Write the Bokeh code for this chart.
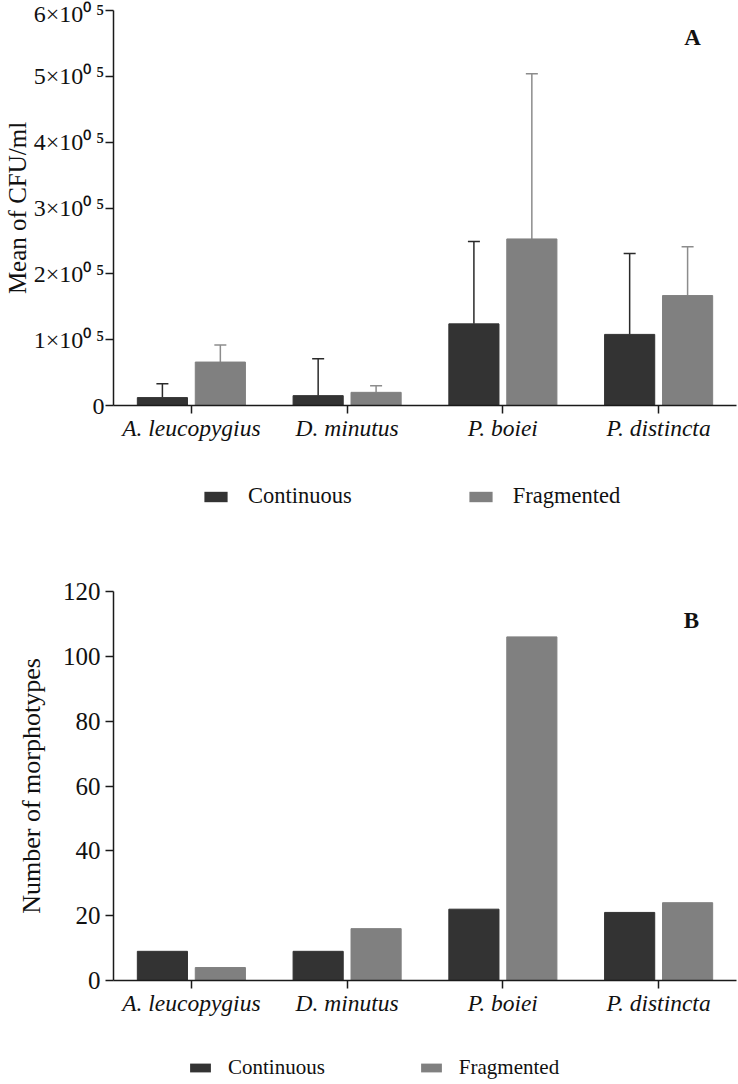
from bokeh.plotting import figure
from bokeh.models import (ColumnDataSource, FactorRange, Range1d, FixedTicker,
                          Whisker, TeeHead, Legend, LegendItem, Label)
from bokeh.transform import dodge
from bokeh.layouts import column
from bokeh.embed import file_html
from bokeh.resources import INLINE

# ---------------- data ----------------
species = ["A. leucopygius", "D. minutus", "P. boiei", "P. distincta"]
series_names = ["Continuous", "Fragmented"]

cfu_continuous = [12000, 15000, 124000, 108000]
cfu_continuous_sd = [21000, 56000, 125000, 123000]
cfu_fragmented = [66000, 20000, 253000, 167000]
cfu_fragmented_sd = [26000, 10000, 251000, 74000]

morph_continuous = [9, 9, 22, 21]
morph_fragmented = [4, 16, 106, 24]

cfu_ticks = [0, 100000, 200000, 300000, 400000, 500000, 600000]
cfu_tick_labels = ["0", "1×10⁰\u2009⁵", "2×10⁰\u2009⁵", "3×10⁰\u2009⁵",
                   "4×10⁰\u2009⁵", "5×10⁰\u2009⁵", "6×10⁰\u2009⁵"]
morph_ticks = [0, 20, 40, 60, 80, 100, 120]

# ---------------- style ----------------
FONT = "Liberation Serif"
C_CONT = "#333333"
C_FRAG = "#808080"
E_CONT = "#2a2a2a"
E_FRAG = "#8c8c8c"
OFF = 0.186
BW = 0.322
AXC = "#1a1a1a"
W = 738


def style_axes(p, tick_size, tick_standoff, ylabel, ylabel_size, standoff):
    p.xgrid.visible = False
    p.ygrid.visible = False
    p.outline_line_color = None
    for ax in (p.xaxis[0], p.yaxis[0]):
        ax.axis_line_width = 1.5
        ax.axis_line_color = AXC
        ax.major_tick_line_width = 1.5
        ax.major_tick_line_color = AXC
        ax.major_tick_out = 8
        ax.major_tick_in = 0
        ax.minor_tick_out = 0
        ax.minor_tick_in = 0
        ax.major_label_text_font = FONT
        ax.major_label_text_color = "#111111"
    p.xaxis.major_label_text_font_size = "23.5px"
    p.xaxis.major_label_text_font_style = "italic"
    p.xaxis.major_label_standoff = 1
    p.xaxis.major_label_orientation = "horizontal"
    p.yaxis.major_label_text_font_size = tick_size
    p.yaxis.major_label_standoff = tick_standoff
    p.yaxis.axis_label = ylabel
    p.yaxis.axis_label_text_font = FONT
    p.yaxis.axis_label_text_font_size = ylabel_size
    p.yaxis.axis_label_text_font_style = "normal"
    p.yaxis.axis_label_text_color = "#111111"
    p.yaxis.axis_label_standoff = standoff


def make_panel(src, ymax, ticks, tick_size, tick_standoff, ylabel, ylabel_size,
               standoff, height, border_top, border_bottom, panel_letter,
               letter_x, letter_y, with_err=False, tick_labels=None):
    p = figure(width=W, height=height, x_range=FactorRange(*species),
               y_range=Range1d(0, ymax), output_backend="svg",
               toolbar_location=None, min_border_left=113, min_border_right=2,
               min_border_top=border_top, min_border_bottom=border_bottom)
    p.background_fill_color = "white"
    p.border_fill_color = "white"

    p.vbar(x=dodge("species", -OFF, range=p.x_range), top="cont", width=BW,
           source=src, fill_color=C_CONT, line_color=C_CONT)
    p.vbar(x=dodge("species", OFF, range=p.x_range), top="frag", width=BW,
           source=src, fill_color=C_FRAG, line_color=C_FRAG)

    if with_err:
        for off, lo, up, col in ((-OFF, "cont", "cont_up", E_CONT),
                                 (OFF, "frag", "frag_up", E_FRAG)):
            w = Whisker(base=dodge("species", off, range=p.x_range), lower=lo,
                        upper=up, source=src, dimension="height",
                        line_color=col, line_width=1.5, lower_head=None,
                        upper_head=TeeHead(size=12, line_color=col, line_width=1.5))
            p.add_layout(w)

    p.yaxis.ticker = FixedTicker(ticks=ticks)
    if tick_labels is not None:
        p.yaxis.major_label_overrides = {t: l for t, l in zip(ticks, tick_labels)}
    style_axes(p, tick_size, tick_standoff, ylabel, ylabel_size, standoff)

    lab = Label(x=letter_x, y=letter_y, x_units="screen", y_units="screen",
                text=panel_letter, text_font=FONT, text_font_size="23px",
                text_font_style="bold", text_align="center",
                text_baseline="middle", text_color="#111111")
    p.add_layout(lab)
    return p


def make_legend(src, height, lx, ly, font_size, glyph_w, glyph_h, standoff_leg, spacing):
    # legend strip below a panel; its zero-width renderers only supply swatches
    p = figure(width=W, height=height, x_range=FactorRange(*species),
               y_range=Range1d(-2, -1),
               x_axis_location=None, y_axis_location=None, output_backend="svg",
               toolbar_location=None, min_border=0, outline_line_color=None)
    p.xgrid.visible = False
    p.ygrid.visible = False
    r1 = p.vbar(x="species", top="cont", width=0, source=src,
                fill_color=C_CONT, line_color=None)
    r2 = p.vbar(x="species", top="frag", width=0, source=src,
                fill_color=C_FRAG, line_color=None)
    leg = Legend(items=[LegendItem(label=series_names[0], renderers=[r1]),
                        LegendItem(label=series_names[1], renderers=[r2])],
                 location=(lx, ly), orientation="horizontal",
                 border_line_color=None, background_fill_alpha=0,
                 padding=0, margin=0, spacing=spacing,
                 glyph_width=glyph_w, glyph_height=glyph_h,
                 label_standoff=standoff_leg, label_height=24,
                 label_text_font=FONT, label_text_font_size=font_size,
                 label_text_color="#111111")
    p.add_layout(leg, "center")
    return p


srcA = ColumnDataSource(dict(
    species=species, cont=cfu_continuous, frag=cfu_fragmented,
    cont_up=[m + s for m, s in zip(cfu_continuous, cfu_continuous_sd)],
    frag_up=[m + s for m, s in zip(cfu_fragmented, cfu_fragmented_sd)]))
srcB = ColumnDataSource(dict(species=species, cont=morph_continuous,
                             frag=morph_fragmented))

pA = make_panel(srcA, 600000, cfu_ticks, "24px", 1,
                "Mean of CFU/ml", "25px", 0,
                height=455, border_top=10, border_bottom=50,
                panel_letter="A", letter_x=579, letter_y=368,
                with_err=True, tick_labels=cfu_tick_labels)
legA = make_legend(srcA, 70, 88, 16, "22.5px", 29, 13, 18, 114)

pB = make_panel(srcB, 120, morph_ticks, "25px", 5,
                "Number of morphotypes", "26px", 14,
                height=505, border_top=66, border_bottom=50,
                panel_letter="B", letter_x=578, letter_y=360)
legB = make_legend(srcB, 50, 74, 0, "21px", 26, 11, 15, 93)

layout = column(pA, legA, pB, legB, spacing=0)
open("out.html", "w").write(file_html(layout, INLINE))
